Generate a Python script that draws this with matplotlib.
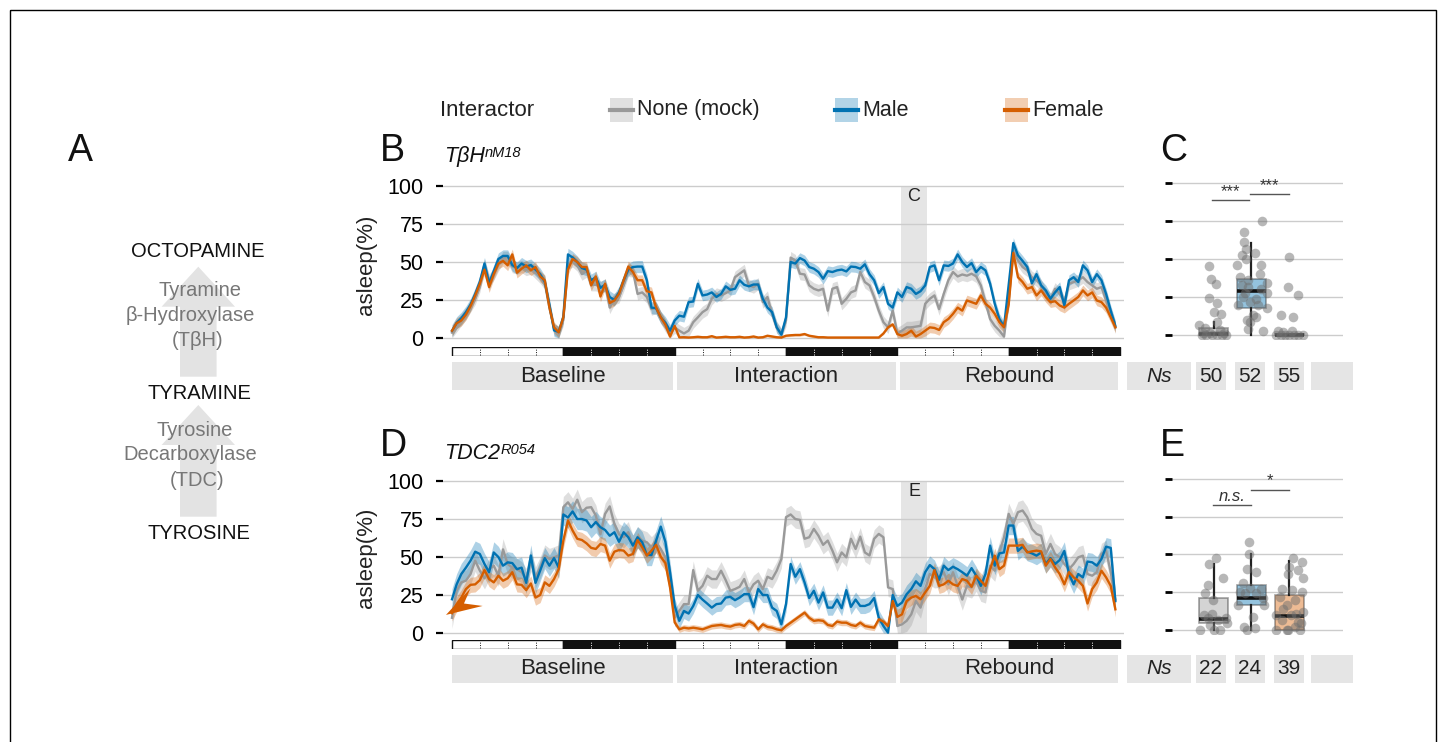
import numpy as np
import matplotlib.pyplot as plt
from matplotlib.patches import Rectangle, Polygon

plt.rcParams['font.family'] = ['Liberation Sans', 'DejaVu Sans']

W, H = 1446, 742

# 30 min bins over baseline / interaction / rebound days
hours = np.arange(144) * 0.5

# ---- panel B: TbH nM18, % asleep ----
b_mock = [3.5, 8, 12, 16, 21, 26, 34, 48, 38, 42, 48, 53, 53, 47, 46, 47, 45, 46, 43, 40, 36, 20, 6, 3,
          12, 49, 50.7, 48, 42, 44, 35, 35, 33.5, 34.6, 20, 25.8, 27, 34.6, 44.5, 44, 29, 30, 27, 19, 20, 13.6, 8, 2.6,
          7, 4.8, 3, 4.8, 10.4, 13.6, 17, 19, 25.8, 29, 28, 29.5, 31.3, 40, 42.3, 44.5, 34.6, 33.5, 35.7, 23.6, 27, 15.9, 7, 2.6,
          11.5, 52.9, 51, 42.3, 41.8, 34.6, 32.4, 31.3, 32.4, 18, 32.4, 33.5, 22.5, 25.8, 30, 31.3, 43.4, 36.8, 34.6, 27, 18, 10.4, 7, 18,
          3, 4.8, 7, 7, 7.5, 8, 22.5, 25.8, 28, 19, 29, 38, 43.4, 40.5, 41.8, 41, 42.3, 40.5, 34.6, 23.6, 12.5, 8, 4.8, 0.9,
          25, 58, 51, 46.7, 44.5, 40, 38, 34.6, 29, 25.8, 32.4, 29, 23.6, 35.7, 36.8, 38, 40, 36.8, 34.6, 32.4, 33.5, 24.7, 15.9, 7]
b_male = [4.8, 10, 13, 17, 22, 29, 37, 49, 36, 44, 52, 54, 54, 48, 46, 49, 47, 48, 45, 42, 37, 22, 5, 4,
          14, 55, 53, 50, 46, 45, 38, 40, 33, 35, 27, 25, 30, 38, 45, 46.7, 47, 47, 38, 20, 19.6, 13.6, 10, 4.8,
          11.5, 14.7, 14, 23.6, 24, 35.7, 28, 28.6, 30, 27, 29, 34, 31.7, 32.4, 38, 35, 34, 35.2, 35.2, 25.8, 20, 17, 7, 2.2,
          13.6, 50, 49, 52.6, 51, 46.7, 45.6, 43.4, 39, 44, 43.4, 44.5, 45, 43.8, 47, 46.7, 45.6, 48.5, 42, 38, 29.5, 33.5, 22.5, 20,
          30, 27, 33.5, 32.4, 29, 30.8, 34.6, 46.7, 47.8, 38, 47.8, 47.4, 49, 55, 50, 46.7, 49.3, 43.4, 46.7, 44.5, 35.7, 22.5, 12.5, 7.5,
          35, 62.5, 54.4, 50.7, 46.7, 36, 42, 34.6, 31.3, 25.8, 30, 33.5, 21.4, 38, 40, 36.8, 47.8, 44.5, 36.8, 42, 38, 29, 18, 8]
b_female = [4.8, 9.7, 11.5, 15.4, 21, 28, 35.7, 45, 33.5, 42, 49, 50.7, 47.8, 55, 43, 45.6, 47.8, 44.5, 46.7, 40.5, 38, 20, 7, 3.7,
            13.6, 45, 52, 50, 46.7, 46.7, 34.6, 40.5, 27.3, 35.7, 23, 24.7, 29, 38, 47, 43.4, 38, 38, 30.8, 30, 20, 13.6, 8.8, 0.9,
            8, 0.4, 0.5, 0.3, 0.5, 0.8, 0.5, 0.5, 1.2, 0.3, 0.5, 0.8, 0.5, 0.5, 0.8, 0.3, 0.5, 1.0, 0.3, 0.5, 1.5, 1.0, 0.5, 0.3,
            1.5, 1.8, 2.0, 2.0, 2.6, 1.5, 1.0, 0.5, 0.5, 0.3, 0.3, 0.3, 0.3, 0.3, 0.3, 0.3, 0.3, 0.3, 0.3, 0.3, 0.3, 3, 7, 9,
            2.6, 1.5, 2.6, 4.8, 1, 2.6, 4.8, 7, 6.6, 5.3, 10.4, 12.5, 15.9, 20, 18, 24.7, 23.6, 22.5, 28, 22.5, 20, 15.9, 10.4, 7,
            22, 56, 40, 36.8, 32.4, 33.5, 28, 31.3, 27, 23.6, 24.2, 21.4, 20, 22.5, 24.7, 27, 31.3, 28, 30, 24.7, 23.6, 20, 13.6, 7]
# SEM per day (baseline, interaction, rebound)
b_sem = [[4, 4, 4], [4, 3.5, 3.5], [3.5, 0.8, 3.5]]

# ---- panel D: TDC2 R054 ----
d_mock = [10, 27.8, 33.3, 34.4, 38.8, 47.6, 41, 36, 42, 44.3, 37.7, 55, 45.4, 43, 42, 40, 35.5, 47.6, 36.6, 43, 51, 48.7, 49.8, 51,
          82.8, 86, 81.7, 87.7, 79.5, 82.4, 82.8, 77.3, 65, 78.4, 83.3, 71.8, 65, 63, 66.3, 57.5, 63, 60.8, 59.7, 56.4, 59.7, 55.3, 49.8, 36.6,
          10, 14.5, 19, 19, 41.4, 27.8, 31, 37.7, 35.5, 35.5, 41, 34.8, 27.8, 28.9, 30.4, 35.5, 26.7, 32, 34.4, 28.9, 37, 35.5, 41, 48.7,
          76.2, 78, 75, 74.4, 62, 63, 68.5, 64, 58, 60.8, 54.2, 46.5, 53, 49.8, 62, 55.3, 63.4, 53, 51, 62, 65.2, 63, 30, 28.9,
          4.6, 5.7, 8, 12.3, 21, 16.7, 28.9, 38.8, 36.6, 37, 40, 32, 40, 31, 22, 31, 30, 34.4, 27.8, 26.7, 44.3, 41, 53, 63,
          78.4, 71.8, 79.5, 80.6, 76.2, 68.5, 65.2, 64, 52, 58.6, 52, 49.8, 45.4, 42, 45.4, 49.8, 50.9, 38.8, 37.7, 40, 52, 54.2, 40, 22]
d_male = [22.2, 32, 38.8, 43, 47.6, 53.5, 52, 45.4, 40, 53, 50, 44.3, 46.5, 46, 42, 43, 33, 51, 33, 41, 49.3, 44.3, 49.3, 43,
          78, 76, 80, 75, 75, 74, 69.6, 73, 69.6, 67.8, 64, 66.3, 60, 66.3, 63, 57.5, 63, 59.7, 51.3, 51.3, 60.8, 70, 60, 40,
          18, 8, 14.5, 12.8, 17.8, 25, 22, 19.4, 16.7, 19, 19.4, 23.3, 23.8, 21.6, 23.3, 25.6, 25.6, 17, 28.9, 25, 25, 16.7, 14.5, 5.7,
          19, 45.4, 37, 42, 33.3, 23, 27.8, 20, 26.7, 16.7, 16.7, 22, 16.3, 28.2, 17.2, 22, 17.8, 17.8, 19, 23, 10, 4.6, 0.2, 25,
          17.8, 20, 25.5, 28.9, 34, 31, 40, 44.7, 42, 35, 44.3, 41.4, 43.6, 42, 40, 37.7, 42.7, 37.7, 31, 38.8, 57.5, 44.3, 52.4, 53,
          70.7, 70.7, 54, 56.8, 53.5, 52.4, 50.9, 53, 45.4, 49.3, 45.4, 48, 54, 38.8, 32, 38.8, 36.6, 47, 46.5, 44.3, 48.7, 56.8, 56, 21]
d_female = [13, 19, 23.3, 28.9, 31.7, 32, 34.8, 41.4, 35.5, 33.3, 37.7, 34.4, 36, 40, 32, 31.7, 28.2, 32.6, 23.3, 25, 33.3, 31, 35.5, 42,
            60.8, 74, 67.4, 62, 61.2, 59, 56, 55.3, 58.6, 57.5, 47.6, 53.5, 54.6, 54.2, 50.9, 52, 61.2, 56.4, 50.9, 54.2, 58, 50.2, 46, 30,
            7, 2.4, 3.5, 3, 3.5, 3, 2.4, 3.5, 4.6, 5, 5.3, 4.6, 4.2, 5.3, 5.7, 4.6, 8, 6.2, 2.4, 5.7, 4, 3.5, 2.4, 1.8,
            4.6, 6.8, 9, 11.2, 13.4, 10, 8, 8.4, 8, 5.3, 4.6, 7.5, 6.8, 6.8, 5.3, 4.6, 6.8, 4.6, 4, 3.5, 9, 7.5, 4.6, 21,
            10.6, 12.3, 21, 23.3, 24.4, 22.2, 26.7, 31, 41.4, 31, 32, 34.4, 32, 31, 35.5, 34.4, 30.4, 37.7, 34.4, 31, 42, 50.9, 42, 44.3,
            57.5, 57.5, 57.5, 58, 53, 53.7, 54.2, 53.7, 44.3, 48.7, 43.2, 38.8, 32, 40, 36.6, 34.4, 31, 19.4, 28.9, 33.3, 41, 36.6, 31, 15.6]
d_sem = [[7, 6, 7], [7, 5, 6], [5, 2, 5]]

# ---- panel C: box stats + visible points (mock, male, female) ----
c_q1 = [0, 17.5, 0]
c_med = [0.5, 29, 0]
c_q3 = [4.4, 37, 0.4]
c_lo = [0, 0, 0]
c_hi = [8.5, 60.7, 0.4]
c_mock_dx = [-0.11, -0.08, 0.05, -0.11, 0.10, 0.01, 0.19, 0.10, -0.38, -0.23, 0.17, -0.10, -0.32, -0.19, -0.05, 0.08, 0.21, 0.34, -0.27, 0.28]
c_mock_y = [45.4, 37, 33.5, 24.6, 21.3, 15, 13.8, 8.8, 6.6, 4.4, 3.3, 1.5, 0, 0, 0, 0, 0, 0, 1, 1]
c_male_dx = [0.29, -0.2, -0.2, -0.15, -0.26, -0.15, 0.09, 0.26, -0.38, -0.31, -0.09, 0.4, -0.09, 0.26, 0.4,
             -0.18, 0.13, -0.04, -0.35, 0.4, 0.04, -0.13, -0.03, -0.09, 0.31, 0.13, 0.18, -0.26, 0.22, -0.22]
c_male_y = [75, 68, 61.4, 57, 52.6, 50.4, 54, 46, 46, 38.4, 36.2, 34.4, 31.8, 30, 27.4,
            28, 24, 22, 19.7, 17.5, 13, 9.9, 8.8, 3.7, 2.6, 12, 19.7, 33, 40, 25]
c_female_dx = [0, -0.03, 0.22, -0.22, 0.11, -0.29, -0.16, 0.06, -0.34, -0.23, -0.11, 0, 0.12, 0.24, 0.35]
c_female_y = [51.5, 31.8, 26.3, 13.2, 12, 2.9, 2.2, 2.9, 0, 0, 0, 0, 0, 0, 0]
c_ns = [50, 52, 55]

# ---- panel E ----
e_q1 = [4.6, 16.7, 0]
e_med = [7.2, 21, 9.4]
e_q3 = [21.5, 30, 23.2]
e_lo = [0, 0, 0]
e_hi = [44, 50, 45.8]
e_mock_dx = [0.06, -0.11, 0.26, -0.16, -0.23, -0.01, -0.26, -0.05, 0.12, 0.36, -0.1, 0.17, -0.36, 0, -0.14, 0.34]
e_mock_y = [47.4, 44, 34.6, 29.8, 24.8, 20, 10, 10.5, 6.8, 4.6, 3.5, 0.2, 0, 0.5, 8, 8]
e_male_dx = [-0.06, -0.06, -0.11, 0.11, -0.22, -0.18, 0.11, -0.35, 0.33, 0.03, -0.2, 0.09, -0.13, -0.31, 0.24, -0.04, 0.31]
e_male_y = [57.9, 50, 40.4, 38.6, 31, 24.3, 24.3, 16.7, 16.7, 9, 2.4, 1.3, 0, 25, 27, 28, 21]
e_female_dx = [0.11, 0.33, 0, 0.24, 0.37, -0.03, -0.2, 0.06, 0.33, -0.25, 0.15, -0.07, -0.34, 0.19, 0.04,
               -0.2, 0.24, 0.31, 0.15, -0.07, -0.34, 0.28, -0.03, -0.16, 0.37]
e_female_y = [47.4, 45, 42, 39.7, 34.6, 37, 27, 26.5, 25.4, 22, 20, 16.7, 10, 11, 10,
              6.8, 5.7, 4.5, 2.4, 0, 0, 0, 0, 14, 12]
e_ns = [22, 24, 39]

group_names = ['None (mock)', 'Male', 'Female']
colors = ['#999999', '#0072B2', '#D55E00']
period_names = ['Baseline', 'Interaction', 'Rebound']

fig = plt.figure(figsize=(W / 100, H / 100), dpi=100)


def px_axes(x0, y0, x1, y1):
    return fig.add_axes([x0 / W, 1 - y1 / H, (x1 - x0) / W, (y1 - y0) / H])


canvas = px_axes(0, 0, W, H)
canvas.set_xlim(0, W)
canvas.set_ylim(H, 0)
canvas.axis('off')
canvas.add_patch(Rectangle((10, 10), W - 20, H + 50, fill=False, ec='black', lw=1, clip_on=False))

XLIM = (-0.97, 72.43)


def draw_trace(top, series, sems, shade_label):
    ax = px_axes(443, top, 1124, top + 161)
    ax.set_facecolor('none')
    ax.fill_between([48.4, 51.2], 0, 100, color='#e5e5e5', lw=0, zorder=0.2)
    ax.text(49.8, 93, shade_label, ha='center', va='center', fontsize=13, color='#222222')
    for vals, sem, c in zip(series, sems, colors):
        y = np.array(vals)
        s = np.repeat(sem, 48)
        ax.fill_between(hours, np.clip(y - s, 0, None), y + s, color=c, alpha=0.32, lw=0, zorder=2)
        ax.plot(hours, y, color=c, lw=1.7, zorder=3)
    ax.set_xlim(*XLIM)
    ax.set_ylim(-2.63, 103.3)
    ax.set_yticks([0, 25, 50, 75, 100])
    ax.set_xticks([])
    ax.grid(axis='y', color='#cccccc', lw=1)
    ax.set_axisbelow(True)
    for sp in ax.spines.values():
        sp.set_visible(False)
    ax.tick_params(axis='y', length=5, width=1.6, labelsize=15.5, pad=9)
    return ax


def draw_ld(top):
    ax = px_axes(443, top, 1124, top + 9)
    ax.set_xlim(*XLIM)
    ax.set_ylim(0, 1)
    ax.axis('off')
    for k in range(6):
        dark = k % 2 == 1
        ax.add_patch(Rectangle((12 * k, 0), 12, 1, fc='#111111' if dark else 'white', ec='#111111', lw=1))
        for h in (3, 6, 9):
            ax.plot([12 * k + h] * 2, [0.1, 0.9], color='white' if dark else '#111111', lw=0.7, ls=(0, (1, 1.5)))


def draw_strips(top, ns):
    for (x0, x1), name in zip([(452, 673), (677, 896), (900, 1118)], period_names):
        canvas.add_patch(Rectangle((x0, top), x1 - x0, 28, fc='#e5e5e5', ec='none'))
        canvas.text((x0 + x1) / 2, top + 14, name, ha='center', va='center', fontsize=16, color='#222222')
    boxes = [(1127, 1191), (1196, 1226), (1235, 1265), (1274, 1304), (1311, 1353)]
    labels = ['Ns'] + [str(n) for n in ns] + ['']
    for (x0, x1), lab in zip(boxes, labels):
        canvas.add_patch(Rectangle((x0, top), x1 - x0, 28, fc='#e5e5e5', ec='none'))
        canvas.text((x0 + x1) / 2, top + 14, lab, ha='center', va='center', fontsize=15, color='#222222',
                    style='italic' if lab == 'Ns' else 'normal')


def draw_box(top, zero_px, q1, med, q3, lo, hi, pts, sigs):
    ax = px_axes(1172, top, 1343, top + 160)
    ax.set_facecolor('none')
    scale = 1.517
    ax.set_xlim(-0.1, 4.42)
    ax.set_ylim(-(top + 160 - zero_px) / scale, (zero_px - top) / scale)
    stats = [dict(q1=a, med=b, q3=c, whislo=d, whishi=e, fliers=[]) for a, b, c, d, e in zip(q1, med, q3, lo, hi)]
    bp = ax.bxp(stats, positions=[1, 2, 3], widths=0.77, patch_artist=True, showfliers=False, showcaps=False,
                boxprops=dict(lw=1.2, ec='#222222'), medianprops=dict(color='#111111', lw=2.6),
                whiskerprops=dict(color='#222222', lw=1.6), manage_ticks=False)
    for patch, c in zip(bp['boxes'], colors):
        patch.set_facecolor(c)
        patch.set_alpha(0.42)
        patch.set_edgecolor('#222222')
    for k, (dx, yv) in enumerate(pts):
        ax.scatter(k + 1 + np.array(dx), yv, s=48, color='#707070', alpha=0.5, lw=0, zorder=4)
    for x0, x1, yl, lab in sigs:
        ax.plot([x0, x1], [yl, yl], color='#555555', lw=1, clip_on=False)
        ax.text((x0 + x1) / 2, yl + 0.8, lab, ha='center', va='bottom', fontsize=12, color='#333333',
                style='italic' if lab == 'n.s.' else 'normal', clip_on=False)
    ax.set_yticks([0, 25, 50, 75, 100])
    ax.set_yticklabels([])
    ax.set_xticks([])
    ax.grid(axis='y', color='#cccccc', lw=1)
    ax.set_axisbelow(True)
    for sp in ax.spines.values():
        sp.set_visible(False)
    ax.tick_params(axis='y', length=5, width=2)


# panel B / C
draw_trace(181, [b_mock, b_male, b_female], b_sem, 'C')
draw_ld(347)
draw_strips(362, c_ns)
draw_box(179, 335, c_q1, c_med, c_q3, c_lo, c_hi,
         [(c_mock_dx, c_mock_y), (c_male_dx, c_male_y), (c_female_dx, c_female_y)],
         [(0.95, 1.94, 89, '***'), (1.96, 2.98, 93, '***')])

# panel D / E
axD = draw_trace(476, [d_mock, d_male, d_female], d_sem, 'E')
axD.add_patch(Polygon([(-0.65, 11.9), (2.0, 29.5), (1.29, 19.4), (3.3, 17.8)], closed=True,
                      fc='#D55E00', ec='none', zorder=5, clip_on=False))
draw_ld(640)
draw_strips(655, e_ns)
draw_box(474, 630.3, e_q1, e_med, e_q3, e_lo, e_hi,
         [(e_mock_dx, e_mock_y), (e_male_dx, e_male_y), (e_female_dx, e_female_y)],
         [(0.98, 1.99, 82.4, 'n.s.'), (1.99, 3.0, 92.8, '*')])

# y labels
for yc in (265, 558):
    canvas.text(367, yc, 'asleep(%)', rotation=90, ha='center', va='center', fontsize=16, color='#222222')

# legend
canvas.text(440, 110, 'Interactor', ha='left', va='center', fontsize=16, color='#222222')
for x0, name, c in zip([610, 835, 1005], group_names, colors):
    canvas.add_patch(Rectangle((x0, 98), 23, 24, fc=c, alpha=0.3, ec='none'))
    canvas.plot([x0, x0 + 23], [110, 110], color=c, lw=3)
    canvas.text(x0 + 27, 110, name, ha='left', va='center', fontsize=15.5, color='#222222')

# panel letters
for x, y, lab in [(68, 161, 'A'), (380, 161, 'B'), (1160, 161, 'C'), (380, 456, 'D'), (1160, 456, 'E')]:
    canvas.text(x, y, lab, fontsize=27, va='baseline', ha='left', color='#111111')

# genotype labels
for y, main, sup in [(162, 'TβH', 'nM18'), (459, 'TDC2', 'R054')]:
    t = canvas.text(444, y, main, fontsize=15.5, style='italic', va='baseline', ha='left', color='#111111')
    canvas.annotate(sup, xy=(1.0, 0.98), xycoords=t, fontsize=10.5, style='italic', ha='left', va='top',
                    color='#111111')

# panel A pathway
for tip, head, tail in [(266.7, 306.7, 376.7), (405, 445, 516.7)]:
    cx, hw, sw = 198.3, 36.7, 18.3
    canvas.add_patch(Polygon([(cx, tip), (cx + hw, head), (cx + sw, head), (cx + sw, tail),
                              (cx - sw, tail), (cx - sw, head), (cx - hw, head)],
                             closed=True, fc='#e3e3e3', ec='none'))
for x, y, txt, col in [(198, 251.7, 'OCTOPAMINE', '#111111'), (200, 290.7, 'Tyramine', '#777777'),
                       (190, 315.7, 'β-Hydroxylase', '#777777'), (198, 341, '(TβH)', '#777777'),
                       (199, 393.3, 'TYRAMINE', '#111111'), (195, 430, 'Tyrosine', '#777777'),
                       (190, 455, 'Decarboxylase', '#777777'), (197, 480, '(TDC)', '#777777'),
                       (199, 533.3, 'TYROSINE', '#111111')]:
    canvas.text(x, y, txt, ha='center', va='center', fontsize=14.5, color=col)

fig.savefig('out.png', dpi=100)
